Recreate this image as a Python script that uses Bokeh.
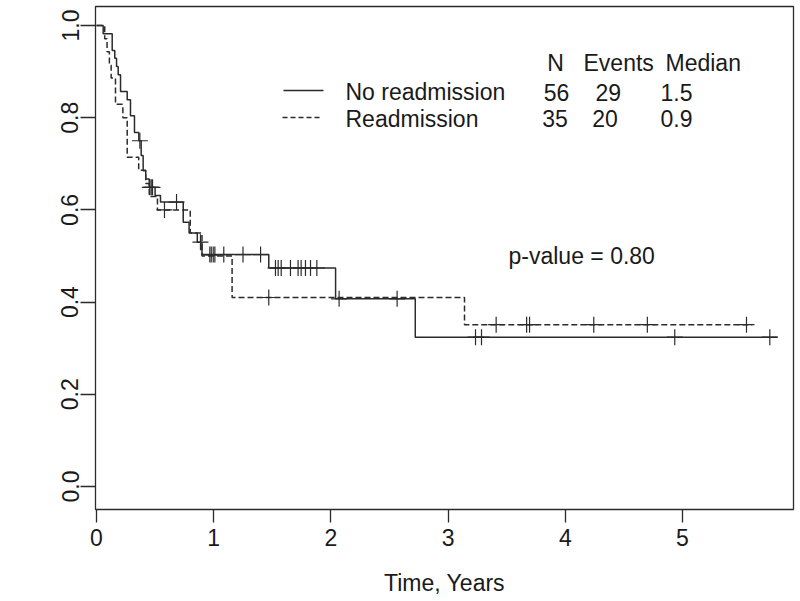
import numpy as np
from bokeh.plotting import figure
from bokeh.models import Range1d, FixedTicker, PrintfTickFormatter, Label
from bokeh.embed import file_html
from bokeh.resources import INLINE
from bokeh.core.properties import value

# ---- data (time in years, progression-free survival) ----
# Solid curve: No readmission
no_readm_event_times = [0.057, 0.134, 0.156, 0.171, 0.185, 0.205, 0.262, 0.290, 0.324, 0.361,
                        0.381, 0.398, 0.42, 0.45, 0.50, 0.546, 0.74, 0.79, 0.86, 0.90,
                        1.47, 2.04, 2.72]
no_readm_surv = [0.982, 0.946, 0.929, 0.911, 0.893, 0.857, 0.839, 0.804, 0.768, 0.750,
                 0.718, 0.685, 0.667, 0.649, 0.631, 0.617, 0.573, 0.550, 0.530, 0.503,
                 0.474, 0.407, 0.324]
no_readm_censor = [0.37, 0.455, 0.467, 0.478, 0.683, 0.887, 0.967, 0.979, 0.996, 1.01,
                   1.086, 1.25, 1.40, 1.527, 1.55, 1.576, 1.655, 1.72, 1.746, 1.783,
                   1.826, 1.88, 2.07, 2.565, 3.234, 3.285, 4.934, 5.745]
no_readm_end = 5.81

# Dashed curve: Readmission
readm_event_times = [0.07, 0.09, 0.11, 0.125, 0.162, 0.225, 0.262, 0.36, 0.42, 0.45,
                     0.52, 0.80, 0.90, 1.157, 3.14]
readm_surv = [0.971, 0.943, 0.914, 0.886, 0.829, 0.800, 0.714, 0.686, 0.657, 0.629,
              0.600, 0.550, 0.500, 0.410, 0.351]
readm_censor = [0.58, 1.47, 3.41, 3.67, 3.695, 4.243, 4.70, 5.546]
readm_end = 5.595

# Legend table
groups = ["No readmission", "Readmission"]
n_patients = ["56", "35"]
n_events = ["29", "20"]
medians = ["1.5", "0.9"]
table_header = ["N", "Events", "Median"]
p_value_text = "p-value = 0.80"

x_ticks = [0, 1, 2, 3, 4, 5]
y_ticks = [0.0, 0.2, 0.4, 0.6, 0.8, 1.0]

FONT = "Liberation Sans"
FS = "23px"
INK = "#1a1a1a"
LINE = "#2b2b2b"


def km_steps(times, surv, end):
    xs = [0.0] + list(times) + [end]
    ys = [1.0] + list(surv) + [surv[-1]]
    return xs, ys


def surv_at(times, surv, t):
    idx = np.searchsorted(np.array(times), t, side="right")
    return 1.0 if idx == 0 else surv[idx - 1]


def dx(px):
    return (px - 96) / 117.2


def dy(py):
    return (486 - py) / 461


p = figure(frame_width=698, frame_height=503,
           x_range=Range1d(dx(95), dx(793)), y_range=Range1d(dy(509), dy(6)),
           output_backend="svg", toolbar_location=None,
           min_border_left=95, min_border_right=7, min_border_top=6, min_border_bottom=91)

p.background_fill_color = "white"
p.border_fill_color = "white"
p.grid.visible = False
p.outline_line_color = LINE
p.outline_line_width = 1.3

# axes
p.xaxis.ticker = FixedTicker(ticks=x_ticks)
p.yaxis.ticker = FixedTicker(ticks=y_ticks)
p.yaxis.formatter = PrintfTickFormatter(format="%.1f")
for ax in (p.xaxis[0], p.yaxis[0]):
    ax.axis_line_color = None
    ax.major_tick_line_color = LINE
    ax.major_tick_line_width = 1.3
    ax.minor_tick_line_color = None
    ax.major_tick_in = 0
    ax.major_label_text_font = FONT
    ax.major_label_text_font_size = FS
    ax.major_label_text_color = INK
    ax.axis_label_text_font = FONT
    ax.axis_label_text_font_size = FS
    ax.axis_label_text_font_style = "normal"
    ax.axis_label_text_color = INK

p.xaxis.major_tick_out = 13
p.xaxis.major_label_standoff = 6
p.xaxis.axis_label = "Time, Years"
p.xaxis.axis_label_standoff = 21

p.yaxis.major_tick_out = 15
p.yaxis.major_label_standoff = 2
p.yaxis.major_label_orientation = "vertical"

# y axis title as a rotated label placed left of the axis
p.add_layout(Label(x=dx(17), y=dy(262.5), text="Progression-free survival",
                   angle=np.pi / 2, text_align="center", text_baseline="middle",
                   text_font=FONT, text_font_size=FS, text_color=INK))

# curves
xs, ys = km_steps(no_readm_event_times, no_readm_surv, no_readm_end)
p.step(xs, ys, mode="after", line_color=LINE, line_width=1.5)
xs2, ys2 = km_steps(readm_event_times, readm_surv, readm_end)
p.step(xs2, ys2, mode="after", line_color=LINE, line_width=1.5, line_dash="6 3")

# censor marks
p.scatter(no_readm_censor, [surv_at(no_readm_event_times, no_readm_surv, c) for c in no_readm_censor],
          marker="cross", size=16, line_color=LINE, line_width=1.2)
p.scatter(readm_censor, [surv_at(readm_event_times, readm_surv, c) for c in readm_censor],
          marker="cross", size=16, line_color=LINE, line_width=1.2)

txt = dict(text_font=value(FONT), text_font_size=FS, text_color=INK,
           text_baseline="middle", text_align="left")

# legend table
p.text(x=[dx(546.7), dx(583), dx(665)], y=[dy(62.8)] * 3, text=table_header, **txt)
p.text(x=[dx(345), dx(345)], y=[dy(91.7), dy(118.3)], text=groups, **txt)
p.text(x=[dx(543.3), dx(541.7)], y=[dy(91.7), dy(118.3)], text=n_patients, **txt)
p.text(x=[dx(595), dx(591.7)], y=[dy(91.7), dy(118.3)], text=n_events, **txt)
p.text(x=[dx(660), dx(660)], y=[dy(91.7), dy(118.3)], text=medians, **txt)
p.line([dx(283), dx(323)], [dy(90), dy(90)], line_color=LINE, line_width=1.3)
p.line([dx(282), dx(321)], [dy(117), dy(117)], line_color=LINE, line_width=1.3, line_dash="5 3")

# p-value
p.text(x=[dx(508)], y=[dy(255.5)], text=[p_value_text], **txt)

with open("out.html", "w") as f:
    f.write(file_html(p, INLINE))
